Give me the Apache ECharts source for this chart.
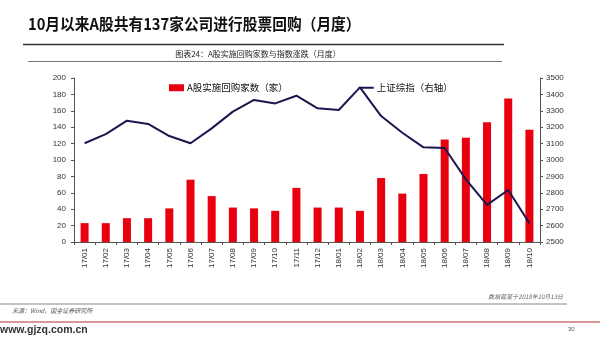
<!DOCTYPE html>
<html>
<head>
<meta charset="utf-8">
<script src="https://cdn.jsdelivr.net/npm/echarts@6/dist/echarts.min.js"></script>
<style>
  html, body { margin: 0; padding: 0; background: #fff; }
  #chart { width: 600px; height: 338px; }
</style>
</head>
<body>
<div id="chart"></div>
<script>
// Monthly categories
const months = ['17/01','17/02','17/03','17/04','17/05','17/06','17/07','17/08','17/09','17/10','17/11','17/12',
                '18/01','18/02','18/03','18/04','18/05','18/06','18/07','18/08','18/09','18/10'];
// Number of A-share companies carrying out buybacks (left axis)
const buybackCounts = [23, 23, 29, 29, 41, 76, 56, 42, 41, 38, 66, 42,
                       42, 38, 78, 59, 83, 125, 127, 146, 175, 137];
// Shanghai Composite Index (right axis)
const shIndex = [3102, 3158, 3240, 3220, 3146, 3102, 3193, 3295, 3366, 3345, 3392, 3315,
                 3305, 3443, 3268, 3166, 3077, 3073, 2882, 2726, 2817, 2614];

const FONT = '"Noto Sans CJK SC", "Noto Sans", sans-serif';
const NUM_FONT = 'Arial, "Liberation Sans", sans-serif';
const chart = echarts.init(document.getElementById('chart'), null, { renderer: 'canvas' });

chart.setOption({
  backgroundColor: '#fff',
  animation: false,
  textStyle: { fontFamily: FONT },
  grid: { left: 74, right: 60, top: 78, bottom: 96 },
  legend: {
    left: 164, top: 78,
    itemWidth: 15, itemHeight: 7, itemGap: 71,
    textStyle: { fontSize: 9.5, color: '#111', fontFamily: FONT, padding: [0, 0, 0, -2] },
    data: [
      { name: 'A股实施回购家数（家）', icon: 'rect' },
      { name: '上证综指（右轴）', icon: 'path://M0,0H15V2H0Z', itemStyle: { color: '#1a1650' } }
    ]
  },
  xAxis: {
    type: 'category',
    data: months,
    axisLine: { lineStyle: { color: '#555', width: 1 } },
    axisTick: { show: true, length: 3, lineStyle: { color: '#555' } },
    axisLabel: { rotate: 90, fontSize: 8, color: '#333', margin: 6, fontFamily: NUM_FONT }
  },
  yAxis: [
    {
      type: 'value', min: 0, max: 200, interval: 20,
      splitLine: { show: false },
      axisLine: { show: true, lineStyle: { color: '#555' } },
      axisTick: { show: true, length: 3, lineStyle: { color: '#555' } },
      axisLabel: { fontSize: 8, color: '#333', margin: 8, fontFamily: NUM_FONT }
    },
    {
      type: 'value', min: 2500, max: 3500, interval: 100,
      splitLine: { show: false },
      axisLine: { show: true, lineStyle: { color: '#555' } },
      axisTick: { show: true, length: 3, lineStyle: { color: '#555' } },
      axisLabel: { fontSize: 8, color: '#333', margin: 6, fontFamily: NUM_FONT,
                   formatter: v => String(v) }
    }
  ],
  series: [
    {
      name: 'A股实施回购家数（家）',
      type: 'bar',
      yAxisIndex: 0,
      data: buybackCounts,
      barWidth: 8,
      itemStyle: { color: '#e8000e' }
    },
    {
      name: '上证综指（右轴）',
      type: 'line',
      yAxisIndex: 1,
      data: shIndex,
      symbol: 'none',
      lineStyle: { color: '#1a1650', width: 2 },
      itemStyle: { color: '#1a1650' }
    }
  ],
  graphic: [
    { type: 'text', x: 28, y: 24, scaleX: 0.92,
      style: { text: '10月以来A股共有137家公司进行股票回购（月度）', font: 'bold 16px ' + FONT, fill: '#111', verticalAlign: 'middle' } },
    { type: 'line', shape: { x1: 23, y1: 44.5, x2: 504, y2: 44.5 }, style: { stroke: '#333', lineWidth: 1.5 } },
    { type: 'text', x: 258, y: 54,
      style: { text: '图表24：A股实施回购家数与指数涨跌（月度）', font: '8px ' + FONT, fill: '#222', align: 'center', verticalAlign: 'middle' } },
    { type: 'line', shape: { x1: 28, y1: 61.5, x2: 502, y2: 61.5 }, style: { stroke: '#777', lineWidth: 1 } },
    { type: 'text', x: 563, y: 297,
      style: { text: '数据截至于2018年10月13日', font: 'italic 6px ' + FONT, fill: '#666', align: 'right', verticalAlign: 'middle' } },
    { type: 'line', shape: { x1: 0, y1: 304, x2: 567, y2: 304 }, style: { stroke: '#888', lineWidth: 1 } },
    { type: 'text', x: 12, y: 311,
      style: { text: '来源：Wind，国金证券研究所', font: 'italic 6px ' + FONT, fill: '#555', verticalAlign: 'middle' } },
    { type: 'line', shape: { x1: 0, y1: 322, x2: 600, y2: 322 }, style: { stroke: '#b03030', lineWidth: 1 } },
    { type: 'text', x: 0, y: 330,
      style: { text: 'www.gjzq.com.cn', font: 'bold 10.5px Arial, sans-serif', fill: '#333', verticalAlign: 'middle' } },
    { type: 'text', x: 568, y: 329,
      style: { text: '30', font: '6px Arial, sans-serif', fill: '#555', verticalAlign: 'middle' } }
  ]
});
</script>
</body>
</html>
